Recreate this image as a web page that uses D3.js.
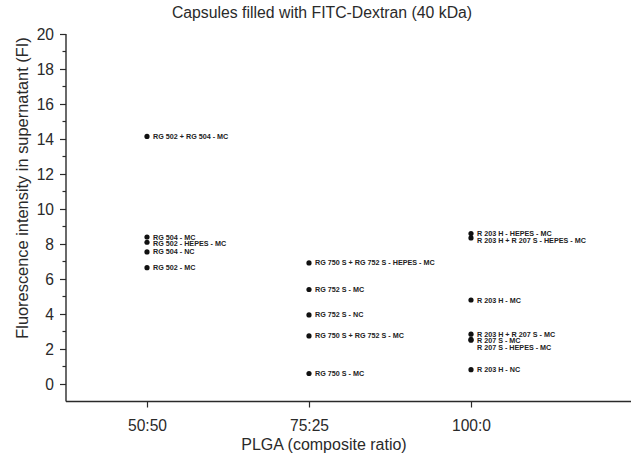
<!DOCTYPE html>
<html>
<head>
<meta charset="utf-8">
<script src="https://cdn.jsdelivr.net/npm/d3@7/dist/d3.min.js"></script>
<style>
  html, body { margin: 0; padding: 0; background: #fff; }
  svg { display: block; font-family: "Liberation Sans", Arial, sans-serif; }
</style>
</head>
<body>
<svg id="chart" width="631" height="455"></svg>
<script>
// PLGA composite ratio groups
const categories = ["50:50", "75:25", "100:0"];

// Fluorescence intensity of the supernatant per formulation
const group5050Names = ["RG 502 + RG 504 - MC", "RG 504 - MC", "RG 502 - HEPES - MC", "RG 504 - NC", "RG 502 - MC"];
const group5050Values = [14.15, 8.4, 8.1, 7.55, 6.65];

const group7525Names = ["RG 750 S + RG 752 S - HEPES - MC", "RG 752 S - MC", "RG 752 S - NC", "RG 750 S + RG 752 S - MC", "RG 750 S - MC"];
const group7525Values = [6.92, 5.4, 3.95, 2.75, 0.6];

const group1000Names = ["R 203 H - HEPES - MC", "R 203 H + R 207 S - HEPES - MC", "R 203 H - MC", "R 203 H + R 207 S - MC", "R 207 S - MC", "R 207 S - HEPES - MC", "R 203 H - NC"];
const group1000Values = [8.6, 8.35, 4.8, 2.85, 2.55, 2.5, 0.82];

const yTicks = [0, 2, 4, 6, 8, 10, 12, 14, 16, 18, 20];
const yMinorTicks = [1, 3, 5, 7, 9, 11, 13, 15, 17, 19];

const groups = [
  { cat: categories[0], names: group5050Names, values: group5050Values },
  { cat: categories[1], names: group7525Names, values: group7525Values },
  { cat: categories[2], names: group1000Names, values: group1000Values }
];

const svg = d3.select("#chart");
const plotLeft = 66, plotRight = 633, plotTop = 34, plotBottom = 401.5;

const x = d3.scaleLinear().domain([-0.5, 3]).range([plotLeft, plotRight]);
const y = d3.scaleLinear().domain([-1, 20]).range([plotBottom, plotTop]);
const xPos = c => x(categories.indexOf(c));

const ink = "#2a2a2a";
const font = "Liberation Sans, Arial, sans-serif";

// Title
svg.append("text")
  .attr("x", 322).attr("y", 18)
  .attr("text-anchor", "middle")
  .attr("font-size", 15.8).attr("fill", ink)
  .text("Capsules filled with FITC-Dextran (40 kDa)");

// Y axis
const yAxis = d3.axisLeft(y).tickValues(yTicks).tickSize(6).tickPadding(6).tickFormat(d3.format("d"));
const gy = svg.append("g").attr("transform", `translate(${plotLeft},0)`).call(yAxis);
gy.select(".domain").attr("d", `M0,${plotTop}V${plotBottom}`).attr("stroke", ink).attr("stroke-width", 1.4);
gy.selectAll(".tick line").attr("stroke", ink).attr("stroke-width", 1.2);
gy.selectAll(".tick text").attr("font-size", 15.6).attr("fill", ink).attr("font-family", font);
gy.selectAll(".minor").data(yMinorTicks).enter().append("line")
  .attr("class", "minor")
  .attr("x1", -3.5).attr("x2", 0)
  .attr("y1", d => y(d)).attr("y2", d => y(d))
  .attr("stroke", ink).attr("stroke-width", 1.2);

// X axis
const xAxis = d3.axisBottom(x).tickValues([0, 1, 2]).tickSize(6).tickPadding(12).tickFormat(i => categories[i]);
const gx = svg.append("g").attr("transform", `translate(0,${plotBottom})`).call(xAxis);
gx.select(".domain").attr("d", `M${plotLeft},0H${plotRight}`).attr("stroke", ink).attr("stroke-width", 1.6);
gx.selectAll(".tick line").attr("stroke", ink).attr("stroke-width", 1.2);
gx.selectAll(".tick text").attr("font-size", 15.6).attr("fill", ink).attr("font-family", font);

// Axis titles
svg.append("text")
  .attr("x", 324).attr("y", 450)
  .attr("text-anchor", "middle")
  .attr("font-size", 16).attr("fill", ink)
  .text("PLGA (composite ratio)");

svg.append("text")
  .attr("transform", `translate(27.5,188) rotate(-90)`)
  .attr("text-anchor", "middle")
  .attr("font-size", 16.4).attr("fill", ink)
  .text("Fluorescence intensity in supernatant (FI)");

// Points and their labels; labels in one column are nudged down so they do not overlap
const minGap = 6.5;
groups.forEach(g => {
  const pts = g.names.map((n, i) => ({ name: n, value: g.values[i] }))
    .sort((a, b) => b.value - a.value);
  let prev = -Infinity;
  pts.forEach(p => {
    p.cy = y(p.value);
    p.ly = Math.max(p.cy, prev + minGap);
    prev = p.ly;
  });
  const cx = xPos(g.cat);
  const layer = svg.append("g");
  layer.selectAll("circle").data(pts).enter().append("circle")
    .attr("cx", cx).attr("cy", d => d.cy).attr("r", 2.6).attr("fill", "#111");
  layer.selectAll("text").data(pts).enter().append("text")
    .attr("x", cx + 6).attr("y", d => d.ly)
    .attr("dy", "0.35em")
    .attr("font-size", 7.2).attr("font-weight", "bold").attr("fill", "#222")
    .text(d => d.name);
});
</script>
</body>
</html>
